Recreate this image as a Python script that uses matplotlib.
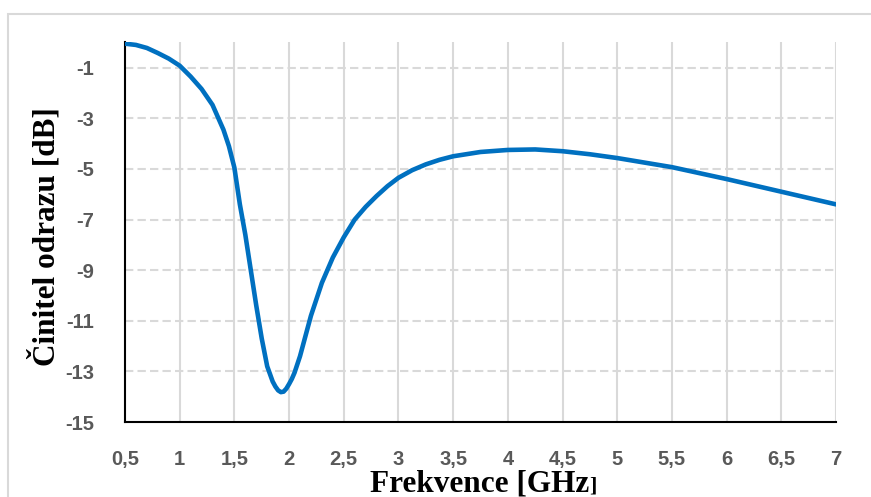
import matplotlib
matplotlib.use("Agg")
import matplotlib.pyplot as plt
from matplotlib.patches import Rectangle

# Frequency [GHz] and reflection coefficient [dB]
freq = [0.5, 0.6, 0.7, 0.8, 0.9, 1.0, 1.1, 1.2, 1.3, 1.4, 1.45, 1.5, 1.55,
        1.6, 1.65, 1.7, 1.75, 1.8, 1.85, 1.875, 1.9, 1.925, 1.95, 1.975, 2.0,
        2.025, 2.05, 2.1, 2.15, 2.2, 2.3, 2.4, 2.5, 2.6, 2.7, 2.8, 2.9, 3.0,
        3.125, 3.25, 3.375, 3.5, 3.75, 4.0, 4.25, 4.5, 4.75, 5.0, 5.5, 6.0,
        6.5, 7.0]
s11 = [-0.05, -0.1, -0.22, -0.42, -0.64, -0.92, -1.35, -1.84, -2.47, -3.45,
       -4.1, -4.95, -6.4, -7.6, -9.0, -10.4, -11.7, -12.8, -13.4, -13.6,
       -13.75, -13.82, -13.8, -13.68, -13.5, -13.3, -13.05, -12.4, -11.6,
       -10.8, -9.5, -8.5, -7.7, -7.0, -6.5, -6.07, -5.68, -5.35, -5.05,
       -4.82, -4.64, -4.5, -4.33, -4.25, -4.23, -4.3, -4.42, -4.57, -4.93,
       -5.4, -5.9, -6.4]

xticks = [0.5, 1, 1.5, 2, 2.5, 3, 3.5, 4, 4.5, 5, 5.5, 6, 6.5, 7]
yticks = [-1, -3, -5, -7, -9, -11, -13, -15]

W, H = 871, 497
fig = plt.figure(figsize=(W / 100, H / 100), dpi=100)

# light frame around the chart area
fig.patches.append(Rectangle((8 / W, -0.1), 1.2, 1 - 14 / H + 0.1,
                             transform=fig.transFigure, fill=False,
                             edgecolor="#d9d9d9", linewidth=1.5))

ax = fig.add_axes([125 / W, 1 - 422 / H, (836 - 125) / W, (422 - 42.4) / H])

gc = "#d9d9d9"
for x in xticks[1:]:
    ax.axvline(x, color=gc, linewidth=1.5, zorder=0)
for y in yticks[:-1]:
    ax.axhline(y, color=gc, linewidth=1.5, linestyle=(0, (4, 2)), zorder=0)

ax.plot(freq, s11, color="#0070C0", linewidth=3.3, solid_capstyle="round",
        solid_joinstyle="round", zorder=3)

ax.set_xlim(0.5, 7)
ax.set_ylim(-15, 0)
tick_font = dict(fontfamily="Liberation Sans", fontweight="bold", fontsize=14.5,
                 color="#595959")
ax.set_xticks(xticks)
ax.set_xticklabels([str(t).replace(".", ",") for t in xticks], **tick_font)
ax.set_yticks(yticks)
ax.set_yticklabels([str(t) for t in yticks], **tick_font)
ax.tick_params(axis="both", length=0)
ax.tick_params(axis="y", pad=22)
ax.tick_params(axis="x", pad=20)

for s in ["top", "right"]:
    ax.spines[s].set_visible(False)
for s in ["left", "bottom"]:
    ax.spines[s].set_color("black")
    ax.spines[s].set_linewidth(1.5)

label_font = dict(fontfamily="Liberation Serif", fontweight="bold",
                  color="black")
# x title, the closing bracket is set smaller as in the original
fig.text(589 / W, 1 - 491 / H, "Frekvence [GHz", ha="right", va="baseline",
         fontsize=22.5, **label_font)
fig.text(589 / W, 1 - 491 / H, "]", ha="left", va="baseline",
         fontsize=16, **label_font)
fig.text(45 / W, 1 - 237 / H, "Činitel odrazu [dB]", rotation=90,
         ha="center", va="center", fontsize=22.5, **label_font)

fig.savefig("out.png", dpi=100)
